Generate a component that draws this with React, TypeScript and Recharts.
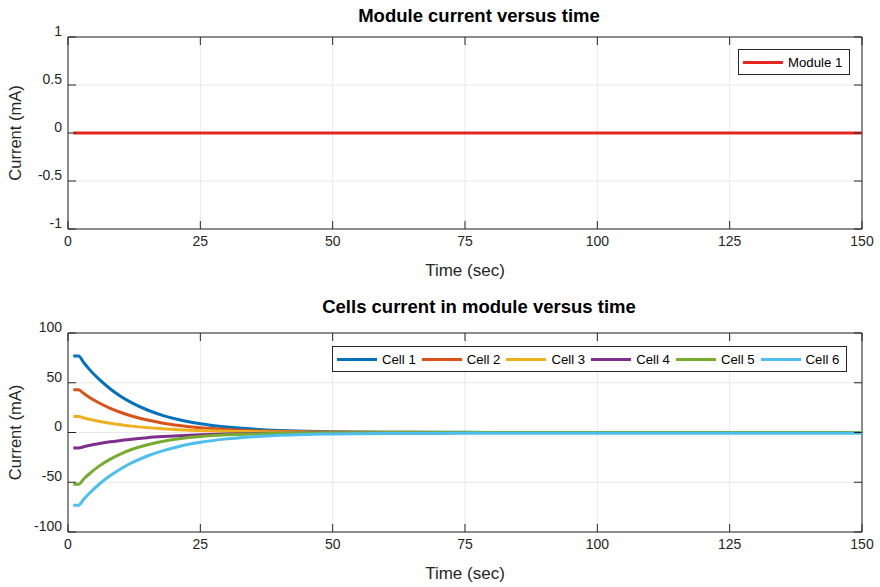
import { LineChart, Line, XAxis, YAxis, CartesianGrid, Legend, ReferenceLine } from "recharts";

const FONT = '"Liberation Sans", Arial, Helvetica, sans-serif';
const INK = "#262626";

const xTicks = [0, 25, 50, 75, 100, 125, 150];
const moduleTicks = [-1, -0.5, 0, 0.5, 1];
const cellTicks = [-100, -50, 0, 50, 100];

const moduleTime = [1, 150];
const moduleCurrent = [0, 0];

const cellTime = [1, 2, 3, 4, 6, 8, 10, 12, 15, 18, 21, 25, 30, 35, 40, 45, 50, 60, 70, 80, 100, 125, 150];
const cell1 = [77, 77, 70.1, 63.7, 52.8, 43.7, 36.2, 30.0, 22.6, 17.0, 12.8, 8.8, 5.5, 3.4, 2.1, 1.3, 0.8, 0.3, 0.2, 0.1, 0.1, 0.1, 0.1];
const cell2 = [43, 43, 39.1, 35.5, 29.4, 24.3, 20.1, 16.6, 12.5, 9.4, 7.1, 4.8, 3.0, 1.8, 1.2, 0.7, 0.4, 0.2, 0.1, 0, 0, 0, 0];
const cell3 = [16, 16, 14.6, 13.3, 11.1, 9.3, 7.7, 6.4, 4.9, 3.7, 2.8, 2.0, 1.2, 0.8, 0.5, 0.3, 0.2, 0.1, 0, 0, 0, 0, 0];
const cell4 = [-15.5, -15.5, -14.3, -13.1, -11.1, -9.4, -8.0, -6.7, -5.2, -4.1, -3.2, -2.3, -1.5, -1.0, -0.7, -0.4, -0.3, -0.1, 0, 0, 0, 0, 0];
const cell5 = [-52, -52, -46.5, -41.7, -33.3, -26.7, -21.4, -17.1, -12.3, -8.8, -6.3, -4.0, -2.3, -1.4, -0.8, -0.5, -0.3, -0.1, -0.1, 0, 0, 0, 0];
const cell6 = [-73, -73, -66.9, -61.3, -51.5, -43.3, -36.4, -30.6, -23.6, -18.2, -14.0, -9.9, -6.4, -4.2, -2.7, -1.9, -1.4, -1.0, -0.9, -0.8, -0.8, -0.8, -0.8];

const cellNames = ["Cell 1", "Cell 2", "Cell 3", "Cell 4", "Cell 5", "Cell 6"];
const cellColors = ["#0072BD", "#D95319", "#EDB120", "#7E2F8E", "#77AC30", "#4DBEEE"];
const cellSeries = [cell1, cell2, cell3, cell4, cell5, cell6];

const moduleData = moduleTime.map((t, i) => ({ t, m: moduleCurrent[i] }));
const cellData = cellTime.map((t, i) => {
  const row: Record<string, number> = { t };
  cellSeries.forEach((s, k) => (row["c" + k] = s[i]));
  return row;
});

const PLOT_W = 794;

// ticks point inward, mirrored on the top/right edge (matlab box style)
const makeXTick = (plotH: number) => (props: any) => {
  const { x, y, payload } = props;
  return (
    <g>
      <line x1={x} x2={x} y1={y} y2={y - 8} stroke={INK} />
      <line x1={x} x2={x} y1={y - plotH} y2={y - plotH + 8} stroke={INK} />
      <text x={x} y={y + 12} dy="0.35em" textAnchor="middle" fill={INK} fontSize={14} fontFamily={FONT}>
        {payload.value}
      </text>
    </g>
  );
};

const YTick = (props: any) => {
  const { x, y, payload } = props;
  return (
    <g>
      <line x1={x} x2={x + 8} y1={y} y2={y} stroke={INK} />
      <line x1={x + PLOT_W} x2={x + PLOT_W - 8} y1={y} y2={y} stroke={INK} />
      <text x={x - 6} y={y - 6} dy="0.35em" textAnchor="end" fill={INK} fontSize={14} fontFamily={FONT}>
        {payload.value}
      </text>
    </g>
  );
};

const LegendBox = (props: any) => {
  const items = props.payload || [];
  return (
    <div
      style={{
        display: "flex",
        alignItems: "center",
        border: `1px solid ${INK}`,
        background: "#fff",
        padding: "0 4px",
        height: 26,
        boxSizing: "border-box",
        fontFamily: FONT,
        fontSize: 13.2,
        color: "#000",
        whiteSpace: "nowrap",
      }}
    >
      {items.map((it: any, i: number) => (
        <span key={i} style={{ display: "flex", alignItems: "center", marginRight: i < items.length - 1 ? 6 : 3 }}>
          <span style={{ display: "inline-block", width: 40, height: 3, background: it.color, marginRight: 5 }} />
          {it.value}
        </span>
      ))}
    </div>
  );
};

const yLabel = (props: any) => {
  const { viewBox } = props;
  const cy = viewBox.y + viewBox.height / 2;
  return (
    <text x={15} y={cy} transform={`rotate(-90, 15, ${cy})`} textAnchor="middle" dominantBaseline="central" fill={INK} fontSize={16.5} fontFamily={FONT}>
      Current (mA)
    </text>
  );
};

const xLabel = (props: any) => {
  const { viewBox } = props;
  return (
    <text x={viewBox.x + viewBox.width / 2} y={viewBox.y + 41} textAnchor="middle" dominantBaseline="central" fill={INK} fontSize={17} fontFamily={FONT}>
      Time (sec)
    </text>
  );
};

const titleStyle = (top: number): React.CSSProperties => ({
  position: "absolute",
  left: 0,
  width: 958,
  top,
  textAlign: "center",
  fontFamily: FONT,
  fontWeight: "bold",
  fontSize: 18.5,
  color: "#000",
  lineHeight: "20px",
});

export default function App() {
  return (
    <div style={{ position: "absolute", left: 0, top: 0, width: 880, height: 587, background: "#fff", overflow: "hidden" }}>
      <div style={titleStyle(6)}>Module current versus time</div>
      <div style={titleStyle(297)}>Cells current in module versus time</div>

      <div style={{ position: "absolute", left: 0, top: 0 }}>
        <LineChart width={880} height={293} data={moduleData} margin={{ top: 37, right: 18, bottom: 0, left: 0 }}>
          <CartesianGrid stroke="#e8e8e8" />
          <XAxis dataKey="t" type="number" domain={[0, 150]} ticks={xTicks} height={64} stroke={INK} tickSize={0} tickMargin={0} tick={makeXTick(192)} label={xLabel} />
          <YAxis type="number" domain={[-1, 1]} ticks={moduleTicks} width={68} stroke={INK} tickSize={0} tickMargin={0} tick={YTick} label={yLabel} />
          <ReferenceLine x={150} stroke={INK} />
          <ReferenceLine y={1} stroke={INK} />
          <Line dataKey="m" name="Module 1" stroke="#E6261F" strokeWidth={3} dot={false} isAnimationActive={false} />
          <Legend layout="horizontal" verticalAlign="middle" content={LegendBox} wrapperStyle={{ top: 49, left: 738, width: "auto" }} />
        </LineChart>
      </div>

      <div style={{ position: "absolute", left: 0, top: 293 }}>
        <LineChart width={880} height={294} data={cellData} margin={{ top: 40, right: 18, bottom: 0, left: 0 }}>
          <CartesianGrid stroke="#e8e8e8" />
          <XAxis dataKey="t" type="number" domain={[0, 150]} ticks={xTicks} height={55} stroke={INK} tickSize={0} tickMargin={0} tick={makeXTick(199)} label={xLabel} />
          <YAxis type="number" domain={[-100, 100]} ticks={cellTicks} width={68} stroke={INK} tickSize={0} tickMargin={0} tick={YTick} label={yLabel} />
          <ReferenceLine x={150} stroke={INK} />
          <ReferenceLine y={100} stroke={INK} />
          {cellNames.map((n, k) => (
            <Line key={n} type="monotone" dataKey={"c" + k} name={n} stroke={cellColors[k]} strokeWidth={3} dot={false} isAnimationActive={false} />
          ))}
          <Legend layout="horizontal" verticalAlign="middle" content={LegendBox} wrapperStyle={{ top: 53, left: 332, width: "auto" }} />
        </LineChart>
      </div>
    </div>
  );
}
